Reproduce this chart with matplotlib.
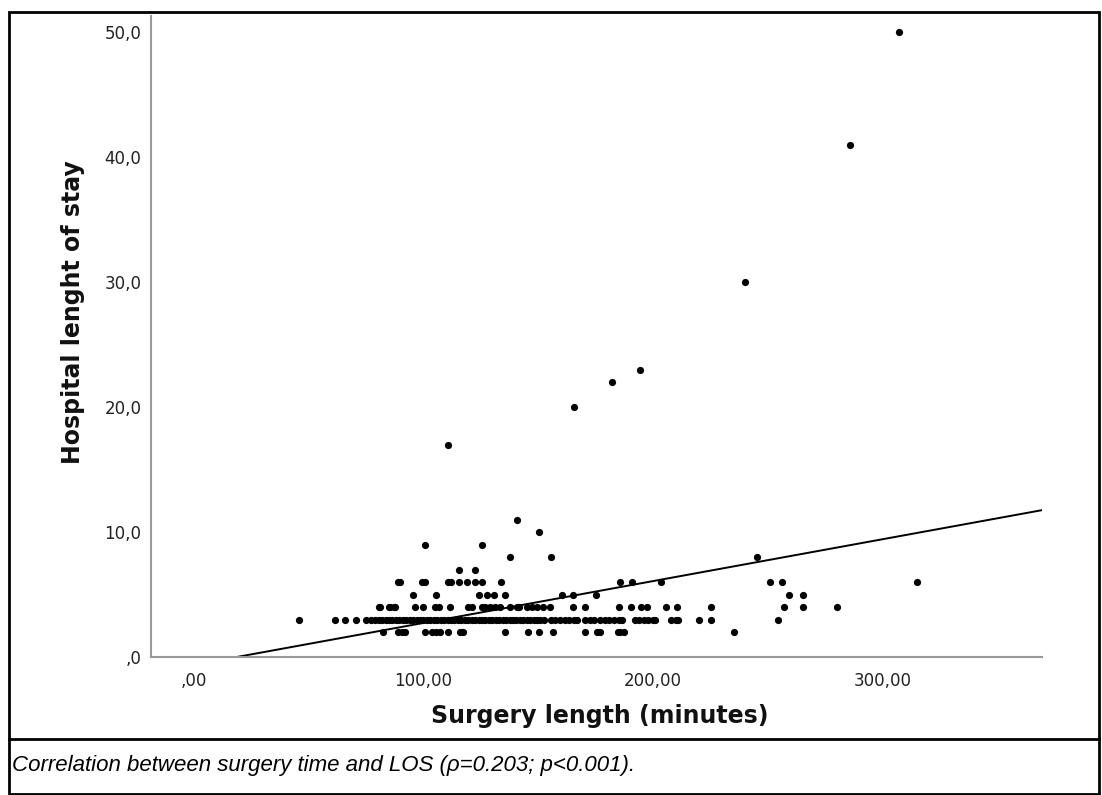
import matplotlib
matplotlib.use("Agg")
import matplotlib.pyplot as plt
from matplotlib.patches import Rectangle
from matplotlib.lines import Line2D
from matplotlib.ticker import FuncFormatter

# ---- data: surgery length (min) and hospital stay (days)
los2 = [82.4, 89.0, 90.5, 92.0, 100.6, 103.6, 105.4, 107.2, 110.8, 115.9, 117.4,
        135.5, 145.7, 150.5, 156.3, 170.3, 175.4, 176.9, 184.9, 185.6, 187.4, 235.4]
los3 = [45.7, 61.4, 65.8, 70.6, 75.0, 77.0, 79.0, 80.5, 82.0, 83.5, 85.0, 86.5,
        88.0, 89.5, 91.0, 92.5, 94.0, 95.5, 97.0, 98.5, 100.0, 101.5, 103.0, 104.5,
        106.0, 107.5, 109.0, 110.5, 112.0, 113.5, 115.0, 116.5, 118.0, 119.5, 121.0,
        122.5, 124.0, 125.5, 127.0, 128.5, 130.0, 131.5, 133.0, 134.5, 136.0, 137.5,
        139.0, 140.5, 142.0, 143.5, 145.0, 146.5, 148.0, 149.5, 151.0, 152.5,
        155.5, 157.5, 159.5, 161.5, 163.5, 165.5, 167.0,
        170.5, 172.5, 174.5, 177.0, 179.0, 181.0, 183.0, 185.0, 186.5,
        192.0, 194.0, 196.0, 198.0, 200.0, 201.0, 208.0, 210.0, 211.0,
        220.2, 225.5, 254.3]
los4 = [80.6, 81.0, 85.0, 85.4, 87.1, 87.6, 96.3, 99.9, 105.0, 106.9, 111.5,
        119.5, 121.0, 125.3, 126.8, 129.0, 131.0, 133.3, 137.7, 140.6, 141.7,
        145.0, 147.1, 149.3, 152.2, 155.1, 165.3, 170.3, 185.3, 190.4, 195.0,
        197.2, 205.5, 210.6, 225.5, 257.2, 265.2, 280.3]
los5 = [95.6, 105.4, 124.3, 127.8, 130.7, 135.5, 160.5, 165.3, 175.0, 259.4, 265.2]
los6 = [88.9, 89.8, 99.2, 100.6, 110.8, 111.8, 115.5, 118.8, 122.4, 125.3, 133.6,
        185.5, 190.7, 203.5, 251.2, 256.3, 315.1]
los7 = [115.5, 122.5]
los8 = [137.5, 155.4, 245.2]
los9 = [100.5, 125.5]
los10 = [150.5]
los11 = [140.6]
los_high_x = [110.5, 165.5, 182.2, 194.3, 240.0, 286.0, 307.0]
los_high_y = [17, 20, 22, 23, 30, 41, 50]

# fit line (LOS = slope * surgery + intercept)
fit_slope = 0.0335
fit_intercept = -0.626
fit_x_range = [18.7, 369.5]

x_ticks = [0, 100, 200, 300]
y_ticks = [0, 10, 20, 30, 40, 50]

groups = [(los2, 2), (los3, 3), (los4, 4), (los5, 5), (los6, 6), (los7, 7),
          (los8, 8), (los9, 9), (los10, 10), (los11, 11)]
xs, ys = [], []
for gx, gy in groups:
    xs.extend(gx)
    ys.extend([gy] * len(gx))
xs.extend(los_high_x)
ys.extend(los_high_y)

W, H = 1102, 795
fig = plt.figure(figsize=(W / 100, H / 100), dpi=100)
fig.patch.set_facecolor("white")

ax = fig.add_axes([151 / W, 1 - 657 / H, (1042 - 151) / W, (657 - 16) / H])
ax.plot(xs, ys, linestyle="none", marker="o", ms=5.2, color="black",
        markeredgewidth=0)
lx = fit_x_range
ly = [fit_slope * v + fit_intercept for v in lx]
ax.plot(lx, ly, color="black", lw=1.4, solid_capstyle="butt")

ax.set_xlim(-18.7, 369.5)
ax.set_ylim(0, 51.3)
ax.set_xticks(x_ticks)
ax.set_yticks(y_ticks)

def xfmt(v, pos):
    s = f"{v:.2f}".replace(".", ",")
    return s[1:] if s.startswith("0") else s

def yfmt(v, pos):
    s = f"{v:.1f}".replace(".", ",")
    return s[1:] if s.startswith("0") else s

ax.xaxis.set_major_formatter(FuncFormatter(xfmt))
ax.yaxis.set_major_formatter(FuncFormatter(yfmt))
ax.tick_params(axis="both", length=0, labelsize=12, colors="#222222")
ax.tick_params(axis="x", pad=11)
ax.tick_params(axis="y", pad=7)
for s in ["top", "right"]:
    ax.spines[s].set_visible(False)
for s in ["left", "bottom"]:
    ax.spines[s].set_color("#999999")
    ax.spines[s].set_linewidth(1.5)

fig.text(600 / W, 1 - 716 / H, "Surgery length (minutes)", ha="center",
         va="center", fontsize=17, fontweight="bold", color="#111111")
fig.text(73 / W, 1 - 312 / H, "Hospital lenght of stay", ha="center",
         va="center", rotation=90, fontsize=17, fontweight="bold",
         color="#111111")

# outer frame and caption separator
fig.add_artist(Rectangle((9 / W, 1 - 794 / H), (1099 - 9) / W, (794 - 12) / H,
                         transform=fig.transFigure, fill=False,
                         edgecolor="black", lw=2))
fig.add_artist(Line2D([9 / W, 1099 / W], [1 - 739 / H, 1 - 739 / H],
                      transform=fig.transFigure, color="black", lw=2))
fig.text(12 / W, 1 - 765 / H,
         "Correlation between surgery time and LOS (\u03c1=0.203; p<0.001).",
         ha="left", va="center", fontsize=16, style="italic",
         family="Liberation Sans")

fig.savefig("out.png", dpi=100)
